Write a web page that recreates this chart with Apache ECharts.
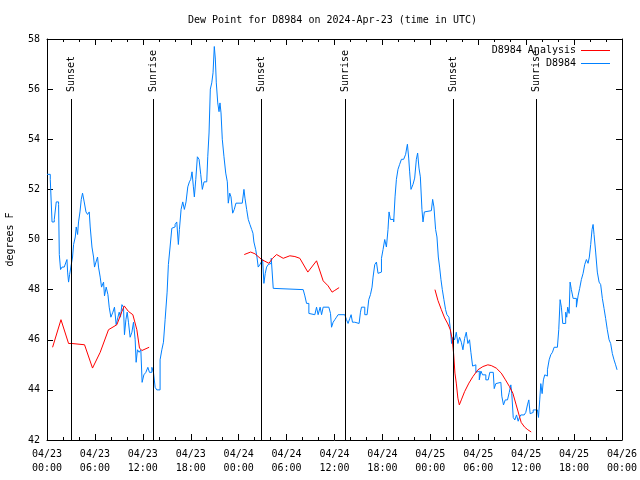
<!DOCTYPE html>
<html>
<head>
<meta charset="utf-8">
<script src="https://cdn.jsdelivr.net/npm/echarts@6/dist/echarts.min.js"></script>
<style>html,body{margin:0;padding:0;background:#fff;}#c{width:640px;height:480px;}</style>
</head>
<body>
<div id="c"></div>
<script>
const titleText = 'Dew Point for D8984 on 2024-Apr-23 (time in UTC)';
const yName = 'degrees F';
const obsName = 'D8984';
const anaName = 'D8984 Analysis';
// x in hours since 04/23 00:00 UTC
const xTickLabels = ['04/23\n00:00','04/23\n06:00','04/23\n12:00','04/23\n18:00','04/24\n00:00','04/24\n06:00','04/24\n12:00','04/24\n18:00','04/25\n00:00','04/25\n06:00','04/25\n12:00','04/25\n18:00','04/26\n00:00'];
const sunHours = [2.95, 13.33, 26.83, 37.33, 50.83, 61.2];
const sunLabels = ['Sunset','Sunrise','Sunset','Sunrise','Sunset','Sunrise'];
const sunLineTop = 55.62;

const observed = [
[0.0,52.6],[0.41,52.4],[0.63,50.7],[0.91,50.8],[1.16,51.5],[1.29,51.5],[1.45,51.4],[1.54,49.4],[1.70,48.8],[1.88,48.9],
[2.16,48.85],[2.38,49.1],[2.5,49.2],[2.58,48.7],[2.7,48.3],[2.83,48.6],[3.04,49.0],[3.2,49.3],[3.33,49.8],[3.54,50.1],
[3.66,50.5],[3.83,50.2],[3.95,50.7],[4.13,51.1],[4.29,51.6],[4.45,51.85],[4.66,51.5],[4.88,51.1],[5.08,51.0],[5.29,51.1],
[5.41,50.5],[5.63,49.7],[5.83,49.3],[5.95,48.9],[6.13,49.1],[6.33,49.3],[6.45,48.9],[6.66,48.5],[6.83,48.1],[7.08,48.3],
[7.2,47.75],[7.41,48.1],[7.63,47.8],[7.79,47.3],[8.0,46.9],[8.25,47.1],[8.45,47.3],[8.66,46.6],[8.88,46.9],[9.04,47.1],
[9.2,46.9],[9.38,47.4],[9.58,47.3],[9.7,46.2],[9.88,46.8],[10.04,47.1],[10.2,46.7],[10.41,46.1],[10.63,46.3],[10.83,46.7],
[11.04,46.0],[11.16,45.1],[11.33,45.6],[11.54,45.5],[11.75,45.6],[11.91,44.3],[12.13,44.6],[12.38,44.7],[12.63,44.9],[12.83,44.7],
[13.13,44.9],[13.33,44.7],[13.54,44.1],[13.75,44.0],[13.95,44.0],[14.16,45.2],[14.38,45.6],[14.58,45.9],[14.79,46.8],[15.04,47.9],
[15.2,49.0],[15.41,49.7],[15.63,50.45],[15.83,50.5],[16.04,50.6],[16.25,50.7],[16.45,49.8],[16.58,50.4],[16.79,51.2],[17.0,51.5],
[17.2,51.2],[17.41,51.5],[17.63,52.1],[17.83,52.3],[18.0,52.4],[18.16,52.7],[18.33,52.1],[18.45,51.7],[18.63,52.4],[18.83,53.3],
[19.04,53.2],[19.25,52.6],[19.45,52.0],[19.66,52.3],[20.0,52.3],[20.13,53.3],[20.29,54.25],[20.45,56.0],[20.63,56.25],[20.79,56.65],
[20.95,57.7],[21.08,57.2],[21.2,56.25],[21.38,55.45],[21.54,55.1],[21.66,55.45],[21.79,55.05],[21.95,54.0],[22.16,53.3],[22.38,52.65],
[22.58,52.3],[22.7,51.45],[22.88,51.85],[23.04,51.7],[23.25,51.05],[23.45,51.2],[23.66,51.45],[24.45,51.45],[24.66,52.0],[24.79,51.65],
[25.0,51.2],[25.2,50.8],[25.41,50.6],[25.63,50.4],[25.79,50.25],[25.91,49.9],[26.13,49.6],[26.29,49.3],[26.45,48.9],[26.66,49.0],
[26.83,49.1],[27.0,49.2],[27.16,48.25],[27.33,48.65],[27.5,48.9],[27.7,49.0],[27.91,49.05],[28.08,49.25],[28.2,49.2],[28.33,48.05],
[28.45,48.0],[32.08,48.0],[32.29,47.75],[32.5,47.45],[32.79,47.05],[33.04,47.0],[33.54,47.0],[33.75,47.3],[33.95,47.0],[34.08,47.0],
[34.2,47.3],[34.38,47.0],[34.58,47.3],[35.29,47.3],[35.5,47.05],[35.63,46.5],[35.83,46.7],[36.04,46.8],[36.25,46.9],[36.45,47.0],
[37.29,47.0],[37.5,46.8],[37.7,46.65],[37.91,46.85],[38.08,47.0],[38.25,46.7],[38.54,46.65],[39.08,46.65],[39.25,47.1],[39.38,47.3],
[39.58,47.3],[39.79,47.0],[40.08,47.0],[40.29,47.6],[40.5,47.8],[40.7,48.1],[40.83,48.5],[41.04,49.0],[41.25,49.1],[41.45,48.65],
[41.66,48.7],[41.88,49.25],[42.08,49.6],[42.29,50.0],[42.5,49.7],[42.7,50.4],[42.83,51.1],[43.0,50.8],[43.2,50.8],[43.41,50.7],
[43.58,51.7],[43.75,52.4],[43.95,52.8],[44.16,53.0],[44.38,53.2],[44.66,53.25],[44.91,53.4],[45.04,53.65],[45.13,53.8],[45.29,53.25],
[45.41,52.7],[45.58,52.0],[45.83,52.2],[46.04,52.45],[46.25,53.2],[46.41,53.45],[46.58,52.85],[46.75,52.5],[46.95,51.2],[47.08,50.7],
[47.25,51.1],[47.5,51.15],[48.13,51.15],[48.29,51.6],[48.45,51.3],[48.66,50.4],[48.83,50.1],[49.0,49.3],[49.16,48.9],[49.33,48.4],
[49.5,48.0],[49.7,47.6],[49.91,47.2],[50.08,47.0],[50.25,47.05],[50.33,46.9],[50.5,46.45],[50.66,45.85],[50.83,46.1],[51.04,46.0],
[51.25,46.3],[51.45,45.85],[51.66,46.1],[51.88,45.9],[52.08,45.6],[52.29,46.05],[52.5,46.3],[52.7,45.85],[52.91,46.0],[53.08,45.5],
[53.29,44.95],[53.5,45.0],[53.7,44.7],[53.91,44.75],[54.13,44.4],[54.33,44.75],[54.54,44.6],[54.95,44.4],[55.25,44.35],[55.45,44.7],
[55.88,44.7],[56.0,44.05],[56.2,44.25],[56.41,44.3],[56.83,44.3],[56.95,43.75],[57.16,43.4],[57.38,43.6],[57.66,43.65],[57.88,43.9],
[58.08,44.2],[58.2,43.85],[58.38,42.9],[58.58,42.8],[58.79,43.0],[59.0,42.75],[59.16,42.9],[59.33,43.0],[59.75,43.05],[59.95,43.1],
[60.16,43.4],[60.33,43.6],[60.5,43.05],[60.7,43.1],[60.88,43.2],[61.41,43.2],[61.54,42.9],[61.7,43.6],[61.83,44.25],[62.0,43.85],
[62.16,44.4],[62.33,44.6],[62.5,44.55],[62.66,44.8],[62.88,45.2],[63.08,45.4],[63.29,45.5],[63.5,45.7],[63.91,45.7],[64.08,46.4],
[64.25,47.6],[64.41,47.3],[64.58,46.65],[64.83,46.65],[64.95,47.1],[65.08,46.9],[65.2,47.3],[65.38,47.05],[65.5,48.3],[65.66,48.0],
[65.88,47.65],[66.08,47.65],[66.29,47.3],[66.5,47.75],[66.7,48.05],[66.91,48.4],[67.13,48.65],[67.33,49.0],[67.54,49.2],[67.75,49.05],
[67.91,49.3],[68.08,49.8],[68.25,50.4],[68.38,50.6],[68.5,50.2],[68.7,49.5],[68.91,48.7],[69.13,48.3],[69.33,48.2],[69.54,47.65],
[69.75,47.25],[69.95,46.85],[70.16,46.4],[70.38,46.0],[70.58,45.85],[70.79,45.45],[71.0,45.2],[71.2,45.0],[71.38,44.8]
];

const analysis = [
[0.7,45.7],[1.75,46.8],[2.7,45.85],[3.13,45.85],[4.7,45.8],[5.7,44.87],[6.66,45.5],[7.7,46.4],[8.75,46.6],[9.38,47.13],
[9.67,47.35],[10.2,47.13],[10.75,47.0],[11.25,46.4],[11.58,45.67],[11.88,45.57],[12.79,45.7],
[12.9,null],
[24.7,49.4],[25.5,49.5],[26.04,49.43],[26.88,49.2],[27.79,49.05],[28.25,49.25],[28.75,49.4],[29.58,49.25],[30.41,49.35],[31.04,49.32],
[31.66,49.25],[32.66,48.7],[33.75,49.15],[34.58,48.35],[35.2,48.15],[35.7,47.9],[36.04,47.97],[36.58,48.08],
[36.7,null],
[48.58,48.0],[48.95,47.57],[49.38,47.2],[49.79,46.87],[50.2,46.63],[50.5,46.4],[50.75,46.0],[50.91,45.47],[51.08,44.67],[51.25,44.27],
[51.45,43.67],[51.63,43.4],[51.88,43.6],[52.29,43.93],[52.83,44.27],[53.33,44.53],[53.95,44.8],[54.58,44.93],[55.2,45.0],[55.63,44.97],
[56.25,44.87],[56.88,44.67],[57.41,44.4],[57.91,44.13],[58.33,43.87],[58.75,43.4],[59.16,42.94],[59.38,42.7],[59.79,42.52],[60.2,42.41],
[60.63,42.32]
];

const FONT = "'DejaVu Sans Mono', monospace";
const chart = echarts.init(document.getElementById('c'), null, {renderer: 'canvas'});

const xCommon = {
  type: 'value', min: 0, max: 72, interval: 6,
  axisLine: {show: true, onZero: false, lineStyle: {color: '#000', width: 1}},
  axisTick: {show: true, inside: true, length: 6, lineStyle: {color: '#000'}},
  minorTick: {show: true, splitNumber: 3, length: 3, lineStyle: {color: '#000'}},
  splitLine: {show: false}, minorSplitLine: {show: false}
};
const yCommon = {
  type: 'value', min: 42, max: 58, interval: 2,
  axisLine: {show: true, onZero: false, lineStyle: {color: '#000', width: 1}},
  axisTick: {show: true, inside: true, length: 6, lineStyle: {color: '#000'}},
  splitLine: {show: false}
};

chart.setOption({
  animation: false,
  backgroundColor: '#fff',
  title: {
    text: titleText, left: 188, top: 15, padding: 0,
    textStyle: {fontFamily: FONT, fontSize: 10, fontWeight: 'normal', color: '#000'}
  },
  legend: {
    data: [
      {name: anaName, icon: 'rect', itemStyle: {color: '#ff0000'}},
      {name: obsName, icon: 'rect', itemStyle: {color: '#0080ff'}}
    ],
    orient: 'vertical', right: 30, top: 45, align: 'right',
    itemWidth: 29, itemHeight: 1, itemGap: 2, padding: 0,
    textStyle: {fontFamily: FONT, fontSize: 10, color: '#000', lineHeight: 11}
  },
  grid: {left: 47, right: 18, top: 39, bottom: 40, containLabel: false, outerBoundsMode: 'none'},
  xAxis: [
    Object.assign({}, xCommon, {
      position: 'bottom',
      axisLabel: {
        show: true, margin: 7, color: '#000', fontFamily: FONT, fontSize: 10, lineHeight: 14,
        formatter: function (v) { return xTickLabels[Math.round(v / 6)]; }
      }
    }),
    Object.assign({}, xCommon, {position: 'top', axisLabel: {show: false}})
  ],
  yAxis: [
    Object.assign({}, yCommon, {
      position: 'left', name: yName, nameLocation: 'middle', nameGap: 32, nameRotate: 90,
      nameTextStyle: {fontFamily: FONT, fontSize: 10, color: '#000'},
      axisLabel: {show: true, margin: 7, color: '#000', fontFamily: FONT, fontSize: 10}
    }),
    Object.assign({}, yCommon, {position: 'right', axisLabel: {show: false}})
  ],
  series: [
    {
      name: anaName, type: 'line', data: analysis, xAxisIndex: 0, yAxisIndex: 0,
      showSymbol: false, symbol: 'none', connectNulls: false,
      lineStyle: {color: '#ff0000', width: 1}, itemStyle: {color: '#ff0000'}, z: 3
    },
    {
      name: obsName, type: 'line', data: observed, xAxisIndex: 0, yAxisIndex: 0,
      showSymbol: false, symbol: 'none', step: 'end',
      lineStyle: {color: '#0080ff', width: 1}, itemStyle: {color: '#0080ff'}, z: 2
    },
    {
      name: 'sun', type: 'custom', xAxisIndex: 0, yAxisIndex: 0, z: 4, clip: false,
      data: sunHours.map(function (h) { return [h, sunLineTop]; }),
      renderItem: function (params, api) {
        const h = api.value(0);
        const p0 = api.coord([h, 42]);
        const p1 = api.coord([h, sunLineTop]);
        const x = Math.round(p0[0]) + 0.5;
        return {
          type: 'group',
          children: [
            {type: 'line', shape: {x1: x, y1: p0[1], x2: x, y2: Math.round(p1[1])},
             style: {stroke: '#000', lineWidth: 1}},
            {type: 'text', x: x, y: Math.round(p1[1]) - 7, rotation: Math.PI / 2,
             style: {text: sunLabels[params.dataIndex], fill: '#000', font: '10px ' + FONT,
                     align: 'left', verticalAlign: 'middle'}}
          ]
        };
      }
    }
  ]
});
</script>
</body>
</html>
